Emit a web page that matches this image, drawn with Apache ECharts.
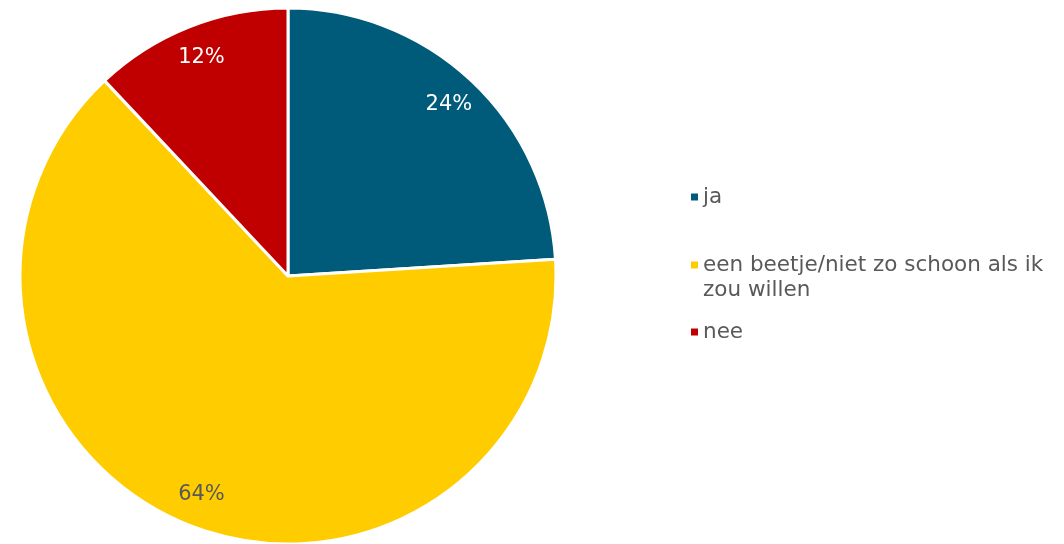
<!DOCTYPE html>
<html>
<head>
<meta charset="utf-8">
<script src="https://cdn.jsdelivr.net/npm/echarts@6/dist/echarts.min.js"></script>
<style>
  html, body { margin: 0; padding: 0; background: #fff; }
  #main { width: 1064px; height: 544px; }
</style>
</head>
<body>
<div id="main"></div>
<script>
const categories = ["ja", "een beetje/niet zo schoon als ik zou willen", "nee"];
const values = [24, 64, 12];
const colors = ["#005B7B", "#FFCC00", "#C00000"];
const labelColors = ["#FFFFFF", "#595959", "#FFFFFF"];

const chart = echarts.init(document.getElementById("main"));

const pieData = categories.map((name, i) => ({
  name: name,
  value: values[i],
  itemStyle: { color: colors[i] },
}));

const labelData = categories.map((name, i) => ({
  name: name,
  value: values[i],
  label: { color: labelColors[i] },
}));

// wrap the long legend entry like the original, icon next to the first line
function legendText(name) {
  if (name.length < 30) return name;
  return " \n" + name.replace(" zou", "\nzou");
}

const legendBase = {
  orient: "vertical",
  left: 691,
  padding: 0,
  itemWidth: 7,
  itemHeight: 7,
  itemGap: 0,
  icon: "rect",
  selectedMode: false,
  itemStyle: { borderWidth: 0 },
  formatter: legendText,
  textStyle: {
    fontFamily: "DejaVu Sans",
    fontSize: 21.5,
    color: "#595959",
    lineHeight: 25,
  },
};

chart.setOption({
  animation: false,
  legend: [
    Object.assign({}, legendBase, { top: 184.5, data: [categories[0]] }),
    Object.assign({}, legendBase, { top: 227.5, data: [categories[1]] }),
    Object.assign({}, legendBase, { top: 319.5, data: [categories[2]] }),
  ],
  series: [
    {
      name: "main",
      type: "pie",
      center: [288, 276],
      radius: [0, 268],
      startAngle: 90,
      clockwise: true,
      label: { show: false },
      labelLine: { show: false },
      itemStyle: { borderColor: "#FFFFFF", borderWidth: 3 },
      emphasis: { disabled: true },
      data: pieData,
    },
    {
      name: "labels",
      type: "pie",
      center: [288, 276],
      radius: [196, 268],
      startAngle: 90,
      clockwise: true,
      silent: true,
      legendHoverLink: false,
      itemStyle: { color: "rgba(0,0,0,0)" },
      label: {
        show: true,
        position: "inside",
        formatter: "{c}%",
        fontFamily: "DejaVu Sans",
        fontSize: 21,
      },
      labelLine: { show: false },
      emphasis: { disabled: true },
      data: labelData,
    },
  ],
});
</script>
</body>
</html>
